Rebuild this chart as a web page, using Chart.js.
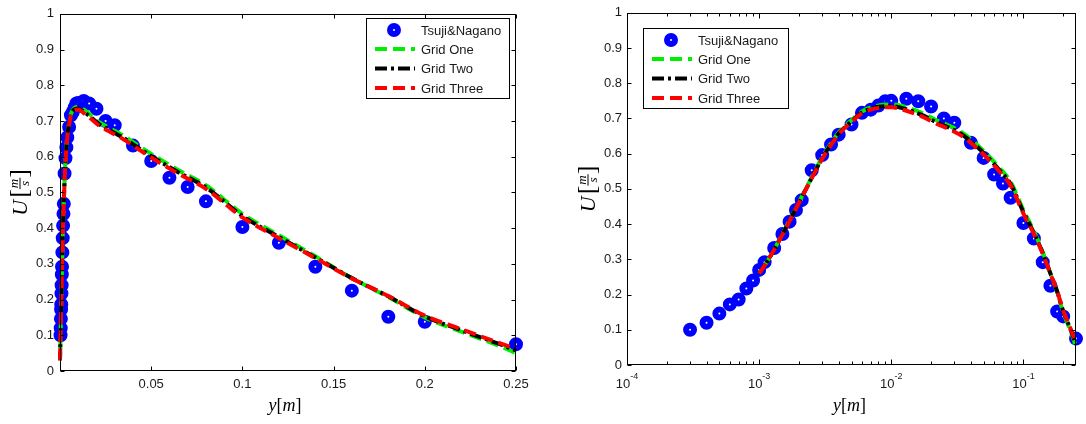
<!DOCTYPE html>
<html><head><meta charset="utf-8">
<script src="https://cdn.jsdelivr.net/npm/chart.js@4"></script>
<style>
html,body{margin:0;padding:0;background:#fff;width:1086px;height:424px;overflow:hidden}
canvas{position:absolute;top:0}
#c1{left:0}
#c2{left:540px}
</style></head><body>
<canvas id="c1" width="540" height="424"></canvas>
<canvas id="c2" width="546" height="424"></canvas>
<script>
// ---- data ----
const tsujiY = [0.0003,0.0004,0.0005,0.0006,0.0007,0.0008,0.0009,0.001,0.0011,0.0013,0.0015,0.0017,0.0019,0.0021,0.0025,0.003,0.0035,0.004,0.005,0.006,0.007,0.008,0.009,0.01,0.013,0.016,0.02,0.025,0.03,0.04,0.05,0.06,0.07,0.08,0.1,0.12,0.14,0.16,0.18,0.2,0.25];
const tsujiU = [0.100,0.120,0.146,0.172,0.186,0.217,0.240,0.270,0.292,0.332,0.372,0.407,0.440,0.468,0.553,0.596,0.626,0.654,0.683,0.716,0.725,0.737,0.749,0.750,0.756,0.749,0.734,0.700,0.688,0.631,0.588,0.541,0.515,0.475,0.403,0.359,0.292,0.225,0.152,0.138,0.075];
const gridY = [0,0.001,0.0012,0.0015,0.002,0.0025,0.003,0.004,0.005,0.006,0.008,0.01,0.013,0.017,0.022,0.028,0.035,0.045,0.055,0.065,0.08,0.1,0.12,0.14,0.16,0.18,0.2,0.22,0.24,0.25];
const gridOneU = [0.03,0.26,0.305,0.372,0.462,0.533,0.590,0.660,0.695,0.720,0.737,0.740,0.732,0.716,0.695,0.678,0.658,0.624,0.592,0.562,0.520,0.440,0.380,0.321,0.260,0.207,0.150,0.110,0.072,0.050];
const gridTwoU = [0.03,0.26,0.305,0.371,0.461,0.531,0.587,0.657,0.692,0.717,0.733,0.735,0.726,0.710,0.689,0.672,0.652,0.618,0.586,0.556,0.514,0.434,0.375,0.318,0.260,0.209,0.153,0.114,0.077,0.058];
const gridThreeU = [0.03,0.26,0.305,0.370,0.460,0.530,0.585,0.655,0.690,0.715,0.730,0.732,0.722,0.706,0.685,0.668,0.648,0.614,0.582,0.552,0.510,0.430,0.372,0.316,0.259,0.210,0.155,0.117,0.080,0.062];
const seriesNames = ['Tsuji&Nagano','Grid One','Grid Two','Grid Three'];
const yTicks = [0,0.1,0.2,0.3,0.4,0.5,0.6,0.7,0.8,0.9,1];
const linTicks = [0,0.05,0.1,0.15,0.2,0.25];
const linTickLabels = ['','0.05','0.1','0.15','0.2','0.25'];
const logTicks = [1e-4,1e-3,1e-2,1e-1];
const logTickExp = ['-4','-3','-2','-1'];

Chart.defaults.font.family = "'Liberation Sans', Arial, sans-serif";
Chart.defaults.font.size = 13;
Chart.defaults.color = '#1a1a1a';

function buildDatasets(isLog){
  const pts = (xs, ys) => xs.map((x,i)=>({x:x, y:ys[i]})).filter(p => !isLog || p.x > 0);
  const lineCommon = {showLine:true, pointRadius:0, pointHoverRadius:0, borderWidth:4, fill:false, borderCapStyle:'butt', cubicInterpolationMode:'monotone', clip:false};
  return [
    {label:seriesNames[0], data:pts(tsujiY,tsujiU), showLine:false, pointRadius:4, pointHoverRadius:4, pointBorderWidth:6, pointBorderColor:'#0000ff', pointBackgroundColor:'#ffffff', order:3, clip:false},
    Object.assign({label:seriesNames[1], data:pts(gridY,gridOneU), borderColor:'#00ee00', borderDash:[12,6], borderDashOffset:7, order:2}, lineCommon),
    Object.assign({label:seriesNames[2], data:pts(gridY,gridTwoU), borderColor:'#000000', borderDash:[12,4,3,4], borderDashOffset:3, order:1}, lineCommon),
    Object.assign({label:seriesNames[3], data:pts(gridY,gridThreeU), borderColor:'#ff0000', borderDash:[12,6], order:0}, lineCommon)
  ];
}

function drawYLabel(ctx, cx, cy){
  ctx.save();
  ctx.translate(cx, cy);
  ctx.rotate(-Math.PI/2);
  ctx.fillStyle = '#000';
  ctx.textBaseline = 'alphabetic';
  const fU = "italic 22px 'Liberation Serif', 'DejaVu Serif', serif";
  const fB = "26px 'Liberation Serif', 'DejaVu Serif', serif";
  const fF = "italic 13px 'Liberation Serif', 'DejaVu Serif', serif";
  ctx.font = fU; const wU = ctx.measureText('U').width;
  ctx.font = fB; const wB = ctx.measureText('[').width;
  ctx.font = fF; const wF = Math.max(ctx.measureText('m').width, ctx.measureText('s').width) + 2;
  const W = wU + 2 + wB + wF + wB;
  let x = -W/2;
  const base = 8;
  const axis = 1;
  ctx.font = fU; ctx.fillText('U', x, base); x += wU + 2;
  ctx.font = fB; ctx.textBaseline = 'middle'; ctx.fillText('[', x, axis); x += wB;
  ctx.font = fF; ctx.textAlign = 'center'; ctx.textBaseline = 'alphabetic';
  ctx.fillText('m', x + wF/2, axis - 2);
  ctx.fillRect(x, axis - 0.5, wF, 1);
  ctx.fillText('s', x + wF/2, axis + 9);
  ctx.textAlign = 'left'; x += wF;
  ctx.font = fB; ctx.textBaseline = 'middle'; ctx.fillText(']', x, axis);
  ctx.restore();
}

function drawXLabel(ctx, cx, base){
  ctx.save();
  ctx.fillStyle = '#000';
  ctx.textBaseline = 'alphabetic';
  const fi = "italic 18px 'Liberation Serif', 'DejaVu Serif', serif";
  const fr = "18px 'Liberation Serif', 'DejaVu Serif', serif";
  const parts = [['y',fi],['[',fr],['m',fi],[']',fr]];
  let W = 0;
  parts.forEach(p => { ctx.font = p[1]; W += ctx.measureText(p[0]).width; });
  let x = cx - W/2;
  parts.forEach(p => { ctx.font = p[1]; ctx.fillText(p[0], x, base); x += ctx.measureText(p[0]).width; });
  ctx.restore();
}

function drawLegend(chart, L){
  const ctx = chart.ctx;
  ctx.save();
  ctx.fillStyle = '#fff';
  ctx.fillRect(L.x, L.y, L.w, L.h);
  ctx.strokeStyle = '#000'; ctx.lineWidth = 1;
  ctx.strokeRect(L.x + 0.5, L.y + 0.5, L.w, L.h);
  const rows = [12, 31, 50.5, 70];
  chart.data.datasets.forEach((ds, i) => {
    const yy = L.y + rows[i];
    if (ds.showLine) {
      ctx.save();
      ctx.strokeStyle = ds.borderColor; ctx.lineWidth = ds.borderWidth;
      ctx.setLineDash(ds.borderDash); ctx.lineCap = 'butt';
      ctx.beginPath(); ctx.moveTo(L.x + 9, yy); ctx.lineTo(L.x + 49, yy); ctx.stroke();
      ctx.restore();
    } else {
      ctx.beginPath(); ctx.arc(L.x + 28, yy, ds.pointRadius, 0, Math.PI*2);
      ctx.fillStyle = ds.pointBackgroundColor; ctx.fill();
      ctx.lineWidth = ds.pointBorderWidth; ctx.strokeStyle = ds.pointBorderColor; ctx.stroke();
    }
    ctx.fillStyle = '#1a1a1a';
    ctx.font = "13px 'Liberation Sans', Arial, sans-serif";
    ctx.textBaseline = 'middle'; ctx.textAlign = 'left';
    ctx.fillText(ds.label, L.x + 55, yy + 1);
  });
  ctx.restore();
}

const decor = {
  id: 'decor',
  afterDatasetsDraw(chart, args, o){
    const ctx = chart.ctx, a = chart.chartArea, xs = chart.scales.x, ys = chart.scales.y;
    ctx.save();
    ctx.strokeStyle = '#000'; ctx.lineWidth = 1;
    const L = Math.round(a.left) + 0.5, R = Math.round(a.right) - 0.5, T = Math.round(a.top) + 0.5, B = Math.round(a.bottom) - 0.5;
    ctx.beginPath();
    yTicks.forEach(v => {
      const p = Math.round(ys.getPixelForValue(v)) + 0.5;
      ctx.moveTo(L, p); ctx.lineTo(L + 4, p);
      ctx.moveTo(R, p); ctx.lineTo(R - 4, p);
    });
    const xt = [];
    if (o.log) {
      for (let d = -4; d <= -1; d++) for (let m = 1; m <= 9; m++) {
        const v = m * Math.pow(10, d);
        if (v <= 0.25) xt.push([v, m === 1 ? 5 : 3]);
      }
    } else {
      linTicks.forEach(v => xt.push([v, 4]));
    }
    xt.forEach(t => {
      const p = Math.round(xs.getPixelForValue(t[0])) + 0.5;
      ctx.moveTo(p, B); ctx.lineTo(p, B - t[1]);
      ctx.moveTo(p, T); ctx.lineTo(p, T + t[1]);
    });
    ctx.stroke();
    ctx.strokeRect(L, T, R - L, B - T);
    ctx.restore();
    drawLegend(chart, o.legend);
  },
  afterDraw(chart, args, o){
    const ctx = chart.ctx, a = chart.chartArea, xs = chart.scales.x;
    drawYLabel(ctx, o.yLabelX, (a.top + a.bottom)/2);
    drawXLabel(ctx, (a.left + a.right)/2 + o.xLabelDx, 411);
    if (o.log) {
      ctx.save();
      ctx.fillStyle = '#1a1a1a';
      ctx.textBaseline = 'alphabetic'; ctx.textAlign = 'left';
      logTicks.forEach((v, i) => {
        const p = xs.getPixelForValue(v);
        ctx.font = "13px 'Liberation Sans', Arial, sans-serif";
        const w1 = ctx.measureText('10').width;
        ctx.font = "9px 'Liberation Sans', Arial, sans-serif";
        const w2 = ctx.measureText(logTickExp[i]).width;
        const x0 = p - (w1 + w2)/2;
        ctx.font = "13px 'Liberation Sans', Arial, sans-serif";
        ctx.fillText('10', x0, 388);
        ctx.font = "9px 'Liberation Sans', Arial, sans-serif";
        ctx.fillText(logTickExp[i], x0 + w1, 379);
      });
      ctx.restore();
    }
  }
};

function makeChart(id, isLog, cfg){
  return new Chart(document.getElementById(id), {
    type: 'scatter',
    data: { datasets: buildDatasets(isLog) },
    options: {
      responsive: false, animation: false, devicePixelRatio: 1,
      layout: { padding: { top: 11, right: cfg.padRight, left: 0, bottom: 0 } },
      plugins: { legend: { display: false }, tooltip: { enabled: false },
        decor: { log: isLog, legend: cfg.legend, yLabelX: cfg.yLabelX, xLabelDx: cfg.xLabelDx } },
      scales: {
        x: isLog ? {
          type: 'logarithmic', min: 1e-4, max: 0.25,
          grid: { display: false, drawTicks: false }, border: { display: false },
          ticks: { display: false },
          afterFit: s => { s.height = cfg.xH; }
        } : {
          type: 'linear', min: 0, max: 0.25,
          grid: { display: false, drawTicks: false }, border: { display: false },
          afterBuildTicks: s => { s.ticks = linTicks.map(v => ({ value: v })); },
          ticks: { padding: 6, maxRotation: 0, autoSkip: false,
            callback: (v) => { const i = linTicks.findIndex(t => Math.abs(t - v) < 1e-9); return i >= 0 ? linTickLabels[i] : ''; } },
          afterFit: s => { s.height = cfg.xH; }
        },
        y: {
          type: 'linear', min: 0, max: 1,
          grid: { display: false, drawTicks: false }, border: { display: false },
          afterBuildTicks: s => { s.ticks = yTicks.map(v => ({ value: v })); },
          ticks: { padding: cfg.yPad, callback: v => String(+v.toFixed(1)) },
          afterFit: s => { s.width = cfg.yW; }
        }
      }
    },
    plugins: [decor]
  });
}

makeChart('c1', false, { padRight: 24, xH: 53, yW: 60, yPad: 6, yLabelX: 19, xLabelDx: -3,
  legend: { x: 366, y: 18, w: 143, h: 80 } });
makeChart('c2', true, { padRight: 3, xH: 59, yW: 87, yPad: 5, yLabelX: 47, xLabelDx: -2,
  legend: { x: 103, y: 28, w: 145, h: 80 } });
</script>
</body></html>
